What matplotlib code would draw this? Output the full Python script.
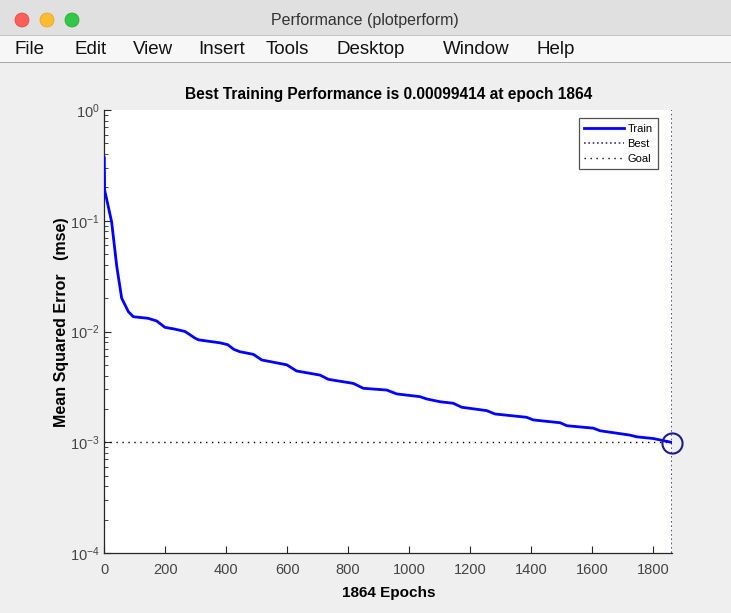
import matplotlib
matplotlib.use("Agg")
import matplotlib.pyplot as plt
from matplotlib.patches import Rectangle, Circle
from matplotlib.transforms import IdentityTransform
import numpy as np

# ---- data ----
epochs = [0, 1, 24, 41, 57, 79, 95, 144, 172, 199, 232, 265, 298, 310, 380, 405, 425,
          445, 489, 517, 599, 631, 708, 735, 817, 850, 927, 960, 1036, 1058, 1102, 1145,
          1173, 1255, 1282, 1386, 1408, 1496, 1518, 1605, 1627, 1725, 1747, 1802, 1830, 1864]
train_mse = [0.37, 0.19, 0.098, 0.0385, 0.020, 0.0151, 0.0136, 0.01315, 0.01244, 0.0109,
             0.0105, 0.0100, 0.0087, 0.0084, 0.0079, 0.0076, 0.0069,
             0.00657, 0.00622, 0.00553, 0.0050, 0.0044, 0.00404, 0.0037, 0.0034, 0.00307,
             0.00296, 0.00273, 0.00258, 0.00246, 0.00232, 0.00225,
             0.00207, 0.00193, 0.0018, 0.00168, 0.00159, 0.0015, 0.00141, 0.00134, 0.00127,
             0.00116, 0.00112, 0.00108, 0.00104, 0.00099414]
best_epoch = 1864
best_perf = 0.00099414
goal = 1e-3
x_ticks = [0, 200, 400, 600, 800, 1000, 1200, 1400, 1600, 1800]
window_title = "Performance (plotperform)"
menu_items = ["File", "Edit", "View", "Insert", "Tools", "Desktop", "Window", "Help"]
menu_x = [15, 75, 133, 198, 266, 336, 443, 537]

W, H = 731, 613
FONT = "Liberation Sans"

fig = plt.figure(figsize=(W / 100, H / 100), dpi=100)
fig.patch.set_facecolor("#efefef")

def P(x, y):
    return (x, H - y)

idt = IdentityTransform()
# title bar
fig.add_artist(Rectangle(P(0, 35), W, 35, transform=idt, facecolor="#e0e0e0", edgecolor="none"))
fig.add_artist(Rectangle(P(0, 36), W, 1, transform=idt, facecolor="#c4c4c4", edgecolor="none"))
# menu bar
fig.add_artist(Rectangle(P(0, 62), W, 26, transform=idt, facecolor="#f7f7f7", edgecolor="none"))
fig.add_artist(Rectangle(P(0, 63), W, 1.2, transform=idt, facecolor="#a8a8a8", edgecolor="none"))
for cx, col, ec in [(22, "#fc5f57", "#e0443e"), (47, "#fdbc2e", "#dea123"), (72, "#33c748", "#1aab29")]:
    fig.add_artist(Circle(P(cx, 20), 7, transform=idt, facecolor=col, edgecolor=ec, lw=0.5))
fig.text(365 / W, 1 - 20 / H, window_title, ha="center", va="center",
         fontsize=11.5, color="#333333", family=FONT)
for name, mx in zip(menu_items, menu_x):
    fig.text(mx / W, 1 - 50 / H, name, ha="left", va="center",
             fontsize=13.5, color="#111111", family=FONT)

# ---- axes ----
ax = fig.add_axes([104.3 / W, 1 - 553 / H, 568 / W, 443 / H])
ax.set_facecolor("white")
ax.set_yscale("log")
ax.set_xlim(0, best_epoch)
ax.set_ylim(1e-4, 1e0)

ax.plot(epochs, train_mse, color=(0, 0, 1), lw=2.0, label="Train", zorder=3)
ax.plot([best_epoch, best_epoch], [1e-4, 1e0], color="#3a3a88", lw=1.2,
        linestyle=(0, (1, 1.6)), label="Best", zorder=2)
ax.plot([0, best_epoch], [goal, goal], color="black", lw=1.0,
        linestyle=(0, (1, 3.3)), label="Goal", zorder=2)
ax.plot([best_epoch], [best_perf], marker="o", markersize=14.5, markerfacecolor="none",
        markeredgecolor="#1c1c8c", markeredgewidth=1.5, linestyle="none", clip_on=False, zorder=4)

ax.set_xticks(x_ticks)
for s in ["top", "right"]:
    ax.spines[s].set_visible(False)
for s in ["left", "bottom"]:
    ax.spines[s].set_color("#262626")
    ax.spines[s].set_linewidth(0.9)
ax.tick_params(which="both", direction="in", colors="#262626", labelcolor="#444444",
               labelsize=10.5)
ax.tick_params(which="major", length=5)
ax.tick_params(which="minor", length=3)
ax.tick_params(axis="x", pad=7)
for lab in ax.get_xticklabels() + ax.get_yticklabels():
    lab.set_family(FONT)

ax.set_title("Best Training Performance is 0.00099414 at epoch 1864", fontsize=11.2,
             fontweight="bold", family=FONT, pad=8)
ax.set_xlabel("1864 Epochs", fontsize=11, fontweight="bold", family=FONT, labelpad=7)
ax.set_ylabel("Mean Squared Error   (mse)", fontsize=11.5, fontweight="bold", family=FONT,
              labelpad=4)
ax.yaxis.set_label_coords(-0.062, 0.52)

leg = ax.legend(loc="upper right", bbox_to_anchor=(0.975, 0.982),
                frameon=True, fancybox=False, edgecolor="#262626", handlelength=3.6,
                handletextpad=0.3, borderpad=0.5, labelspacing=0.45, borderaxespad=0,
                prop={"family": FONT, "size": 8})
leg.get_frame().set_linewidth(0.9)

fig.savefig("out.png", dpi=100, facecolor=fig.get_facecolor())
